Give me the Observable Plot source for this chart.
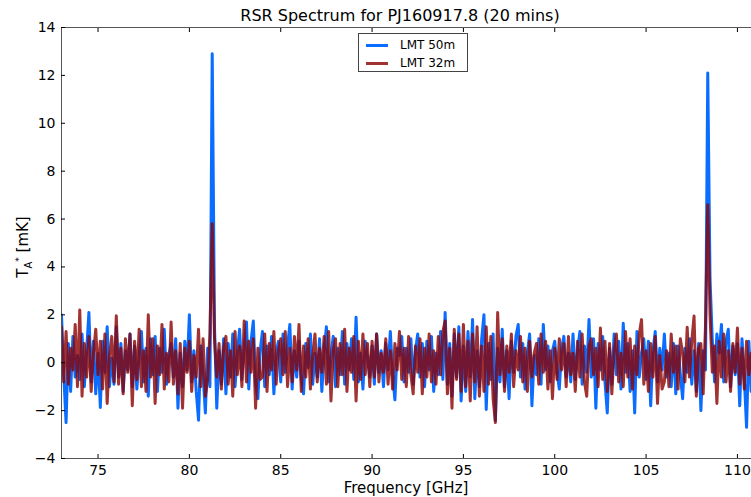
<!DOCTYPE html>
<html><head><meta charset="utf-8">
<script src="https://cdn.jsdelivr.net/npm/d3@7"></script>
<script src="https://cdn.jsdelivr.net/npm/@observablehq/plot@0.6"></script>
<style>
body{margin:0;background:#fff;}
#wrap{position:relative;width:751px;height:497px;overflow:hidden;font-family:"DejaVu Sans",sans-serif;background:#fff}
#title{position:absolute;left:0;top:6px;width:800px;text-align:center;font-size:16px;color:#000;line-height:20px}
#legend{position:absolute;left:358px;top:33px;width:108px;height:37px;border:1px solid #444;background:#fff;font-size:12px}
.row{position:absolute;left:7px;height:16px;display:flex;align-items:center}
.sw{width:22px;height:3px;margin-right:12px}
</style></head>
<body><div id="wrap"><div id="title">RSR Spectrum for PJ160917.8 (20 mins)</div></div>
<script>
const titleText = "RSR Spectrum for PJ160917.8 (20 mins)";
const seriesNames = ["LMT 50m", "LMT 32m"];
const freqStart = 73.0;   // GHz
const freqStep = 0.125;   // GHz per channel
const xTicks = [75, 80, 85, 90, 95, 100, 105, 110];
const yTicks = [-4, -2, 0, 2, 4, 6, 8, 10, 12, 14];

// LMT 50m, T_A* [mK]
const lmt50 = [
 2.0,-0.5,-2.5,0.8,-1.2,1.1,-0.6,0.3,
 -0.7,1.2,-1.0,0.5,2.1,-0.8,0.9,-1.3,
 0.4,-1.87,0.9,-0.4,1.5,-1.0,0.2,-0.9,
 1.5,-0.6,0.8,-1.2,0.5,-0.3,1.2,-1.0,
 0.7,-1.1,0.3,1.3,-0.8,0.6,-1.4,1.0,
 -0.5,1.1,-1.2,0.6,-0.4,1.4,-0.9,0.3,
 0.8,-0.6,1.0,-1.9,0.4,-1.0,0.9,-0.3,
 2.0,-0.8,0.5,-1.2,-2.4,0.7,-0.5,-2.1,
 0.6,-1.0,12.9,1.5,-1.9,0.5,-0.9,1.0,
 -1.3,0.8,-0.6,1.2,-1.0,0.4,1.4,-0.7,
 0.6,1.7,-1.1,0.9,1.74,-0.9,-1.5,0.5,
 1.3,-1.0,0.7,-0.5,1.1,-1.3,0.4,0.9,
 -0.8,1.2,-0.4,0.7,1.6,-1.1,0.5,-0.6,
 0.9,-0.7,-1.3,0.8,-0.2,1.2,-0.9,0.4,
 -0.6,1.0,-1.2,0.5,1.5,-0.8,0.3,1.1,
 -1.0,0.6,-0.5,1.3,-0.9,0.8,-0.3,1.0,
 -0.7,1.9,-0.8,0.4,-1.1,0.9,0.2,-0.6,
 0.7,-0.9,1.2,-0.4,0.5,-1.0,0.8,-0.3,
 1.3,-0.5,-1.55,0.6,0.3,1.1,-0.8,0.6,
 -0.4,1.0,-0.9,0.5,1.2,-0.6,0.8,-1.0,
 0.9,-0.3,1.1,-1.2,0.4,-0.5,1.3,-0.7,
 2.1,-0.9,0.8,-1.4,1.2,-0.6,1.5,-1.6,
 0.7,-1.2,1.3,-0.6,1.8,-1.5,0.5,-1.0,
 1.0,2.0,-1.95,0.8,-0.7,1.2,-2.4,0.6,
 -0.8,1.4,-1.0,0.5,-1.5,0.9,-0.4,1.1,
 1.6,-0.6,0.8,-1.1,0.4,1.2,-1.8,0.3,
 -0.5,1.0,-0.9,1.6,-0.3,0.7,-0.8,0.5,
 0.9,-0.4,-1.1,0.6,1.1,-0.6,0.4,-0.8,
 1.2,-0.7,0.5,1.3,-0.9,0.7,-0.4,1.8,
 -0.6,1.0,-1.9,0.8,-0.3,1.1,-0.8,-2.1,
 0.6,-0.9,1.2,-0.5,0.9,-1.1,1.65,-0.4,
 0.8,-1.2,0.5,-2.1,1.3,-0.6,0.4,1.0,
 -0.7,0.9,-1.8,0.5,1.3,-0.8,0.6,-0.3,
 1.2,-0.6,0.4,-1.0,0.8,-1.3,0.7,-0.5,
 -1.5,0.6,-0.4,1.0,-0.9,0.5,-1.2,0.8,
 -2.0,0.5,-0.3,12.1,3.5,0.9,-0.8,1.2,
 0.4,1.6,-0.8,0.9,1.4,-1.0,0.7,-0.5,
 0.8,-1.8,1.0,-0.6,-2.7,0.9,-1.2,0.5
];

// LMT 32m, T_A* [mK]
const lmt32 = [
 1.5,-0.8,1.3,-0.9,0.6,-0.3,1.6,-1.0,
 2.2,-1.4,0.8,-0.6,1.1,-1.2,0.4,1.4,
 -0.5,0.9,-1.1,1.2,-1.7,0.3,1.1,-0.8,
 1.96,-0.9,0.6,-1.3,1.0,-0.4,1.2,-1.8,
 0.9,-0.7,1.4,-1.0,0.5,-1.2,2.0,-0.6,
 1.0,-1.7,0.7,-0.5,1.6,-1.1,0.4,-0.8,
 1.7,-0.9,0.5,-1.3,0.8,-1.9,0.6,-0.4,
 0.9,-1.2,0.3,-0.6,1.4,-1.0,1.0,-1.4,
 -0.7,1.2,5.8,1.0,-0.6,0.8,-1.1,0.6,
 1.1,-0.9,0.5,-1.4,1.3,-0.5,0.7,-1.0,
 1.74,-0.8,0.9,-0.4,1.0,-1.9,0.6,-0.7,
 -0.6,1.2,-1.2,0.8,-0.3,1.3,-0.9,0.5,
 1.0,-0.5,1.3,-1.0,0.6,-0.8,1.1,-0.3,
 1.6,-1.2,0.7,-0.6,1.0,-1.1,0.3,1.2,
 -0.8,0.6,-0.4,1.1,-0.9,1.3,-1.6,0.5,
 1.0,-1.0,0.8,-0.5,1.4,-1.2,0.6,-0.4,
 1.1,-1.6,0.9,-0.7,1.2,-0.5,0.8,-1.0,
 0.9,-0.6,1.2,-0.8,0.4,-0.4,1.0,-0.9,
 0.5,-1.1,0.8,-0.3,1.3,-0.7,0.6,-1.0,
 1.1,-0.5,-1.3,0.7,-0.4,1.0,-1.3,0.6,
 -0.6,1.2,-0.8,0.5,-0.9,1.1,-0.5,1.3,
 1.74,-1.3,0.6,-1.9,1.4,-0.7,1.2,-1.2,
 1.6,-1.0,0.9,-1.6,1.2,-0.8,1.5,-1.4,
 0.7,-1.2,1.5,-0.9,1.1,-1.5,-2.5,2.1,
 -0.5,1.0,-1.2,0.7,-0.4,1.2,-1.0,0.5,
 -0.3,1.1,-0.8,0.6,-1.2,0.9,-0.6,0.4,
 0.8,-0.9,1.2,-0.4,0.9,-1.1,0.5,-1.5,
 0.6,-0.7,1.0,-0.3,0.8,-1.0,1.1,-0.5,
 0.4,-1.2,0.9,-0.6,1.2,-0.8,-1.4,0.7,
 1.0,-0.5,0.6,-1.0,1.45,-0.7,0.9,-1.2,
 0.8,-1.3,0.5,1.2,-0.8,0.4,-1.0,1.3,
 -0.6,1.0,-1.1,0.7,-0.5,1.2,1.8,-0.9,
 0.5,-1.2,0.8,-0.6,1.1,-1.7,0.3,-1.1,
 -0.8,0.5,-1.0,1.2,-0.4,0.7,-1.1,1.0,
 0.4,-0.8,1.48,-0.6,0.9,1.95,-1.4,0.6,
 0.8,-1.3,1.5,6.6,2.0,-0.4,0.7,-1.7,
 0.9,-0.6,1.2,-0.8,0.5,-1.2,0.8,-0.4,
 1.45,-0.9,0.6,-1.1,0.9,-0.5,0.4,-0.8
];

const colors = ["#0b6dff", "#8b0000"];
const opacities = [1, 0.8];

const d50 = lmt50.map((v, i) => ({f: freqStart + i * freqStep, v}));
const d32 = lmt32.map((v, i) => ({f: freqStart + i * freqStep, v}));

const chart = Plot.plot({
  width: 751, height: 497,
  marginTop: 27, marginBottom: 39, marginLeft: 61, marginRight: 0,
  style: {fontFamily: "DejaVu Sans, sans-serif", fontSize: "14px", color: "#000", background: "#fff"},
  x: {domain: [73, 110.77]},
  y: {domain: [-4, 14]},
  marks: [
    Plot.lineY(d50, {x: "f", y: "v", stroke: colors[0], strokeWidth: 3, strokeOpacity: opacities[0], clip: true}),
    Plot.lineY(d32, {x: "f", y: "v", stroke: colors[1], strokeWidth: 3, strokeOpacity: opacities[1], clip: true}),
    Plot.ruleX([73], {stroke: "#555"}),
    Plot.ruleY([-4, 14], {stroke: "#555"}),
    Plot.axisX(xTicks, {anchor: "bottom", tickSize: -4, tickPadding: 11, label: null}),
    Plot.axisX(xTicks, {anchor: "top", tickSize: -4, tickFormat: () => "", label: null}),
    Plot.axisY(yTicks, {anchor: "left", tickSize: -4, tickPadding: 10, label: null})
  ]
});
document.getElementById("wrap").appendChild(chart);

const svg = d3.select(chart);
svg.append("text")
  .attr("x", 406).attr("y", 493)
  .attr("text-anchor", "middle")
  .style("font-size", "15px")
  .text("Frequency [GHz]");
const yl = svg.append("text")
  .attr("transform", "translate(28,247) rotate(-90)")
  .attr("text-anchor", "middle")
  .style("font-size", "15px");
yl.append("tspan").text("T");
yl.append("tspan").attr("dy", 4).style("font-size", "10px").text("A");
yl.append("tspan").attr("dy", -10).style("font-size", "9px").text("*");
yl.append("tspan").attr("dy", 6).text(" [mK]");

const leg = d3.select("#wrap").append("div").attr("id", "legend");
seriesNames.forEach((name, i) => {
  const row = leg.append("div").attr("class", "row").style("top", (3 + i * 18) + "px");
  row.append("div").attr("class", "sw").style("background", colors[i]).style("opacity", opacities[i]);
  row.append("span").text(name);
});
</script></body></html>
